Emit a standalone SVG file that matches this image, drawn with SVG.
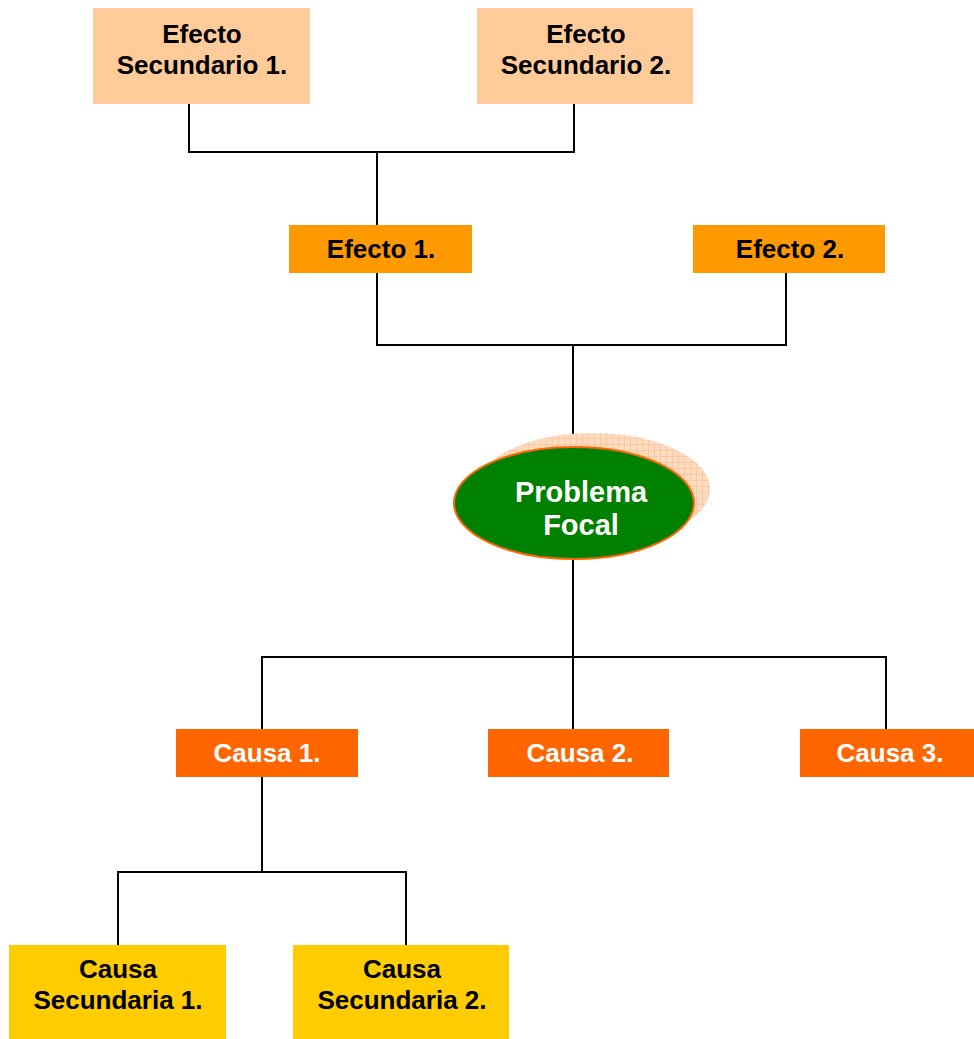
<svg xmlns="http://www.w3.org/2000/svg" width="974" height="1039" viewBox="0 0 974 1039">
  <defs>
    <style>
      .lbl { font-family: "Liberation Sans", Arial, sans-serif; font-weight: bold; font-size: 26px; text-anchor: middle; }
      .big { font-size: 29px; }
      .dark { fill: #000000; }
      .light { fill: #FFFFFF; }
      .wire { fill: none; stroke: #000000; stroke-width: 2; }
    </style>
    <pattern id="grid" width="6" height="6" patternUnits="userSpaceOnUse">
      <rect width="6" height="6" fill="#FDDCC0"/>
      <path d="M0 0.5H6M0.5 0V6" stroke="#F9C9A4" stroke-width="1"/>
    </pattern>
  </defs>

  <rect width="974" height="1039" fill="#FFFFFF"/>

  <!-- connectors -->
  <g id="connectors" class="wire">
    <path d="M189 104V152H574V104M377 152V225"/>
    <path d="M377 273V345H786V273M573 345V447"/>
    <path d="M573 559V657M262 729V657H886V729M573 657V729"/>
    <path d="M262 777V872M118 945V872H406V945"/>
  </g>

  <g id="efecto-sec-1">
    <rect x="93" y="8" width="217" height="96" fill="#FFCC99"/>
    <text class="lbl dark" x="202" y="43">Efecto</text>
    <text class="lbl dark" x="202" y="74">Secundario 1.</text>
  </g>
  <g id="efecto-sec-2">
    <rect x="477" y="8" width="216" height="96" fill="#FFCC99"/>
    <text class="lbl dark" x="586" y="43">Efecto</text>
    <text class="lbl dark" x="586" y="74">Secundario 2.</text>
  </g>

  <g id="efecto-1">
    <rect x="289" y="225" width="183" height="48" fill="#FF9900"/>
    <text class="lbl dark" x="381" y="258">Efecto 1.</text>
  </g>
  <g id="efecto-2">
    <rect x="693" y="225" width="192" height="48" fill="#FF9900"/>
    <text class="lbl dark" x="790" y="258">Efecto 2.</text>
  </g>

  <g id="problema-focal">
    <ellipse cx="593" cy="489" rx="117" ry="56" fill="url(#grid)"/>
    <ellipse cx="574" cy="503" rx="120" ry="56" fill="#008000" stroke="#FF6600" stroke-width="2"/>
    <text class="lbl big light" x="581" y="502">Problema</text>
    <text class="lbl big light" x="581" y="535">Focal</text>
  </g>

  <g id="causa-1">
    <rect x="176" y="729" width="182" height="48" fill="#FF6600"/>
    <text class="lbl light" x="267" y="762">Causa 1.</text>
  </g>
  <g id="causa-2">
    <rect x="488" y="729" width="181" height="48" fill="#FF6600"/>
    <text class="lbl light" x="580" y="762">Causa 2.</text>
  </g>
  <g id="causa-3">
    <rect x="800" y="729" width="174" height="48" fill="#FF6600"/>
    <text class="lbl light" x="890" y="762">Causa 3.</text>
  </g>

  <g id="causa-sec-1">
    <rect x="9" y="945" width="217" height="94" fill="#FFCC00"/>
    <text class="lbl dark" x="118" y="978">Causa</text>
    <text class="lbl dark" x="118" y="1009">Secundaria 1.</text>
  </g>
  <g id="causa-sec-2">
    <rect x="293" y="945" width="216" height="94" fill="#FFCC00"/>
    <text class="lbl dark" x="402" y="978">Causa</text>
    <text class="lbl dark" x="402" y="1009">Secundaria 2.</text>
  </g>
</svg>
